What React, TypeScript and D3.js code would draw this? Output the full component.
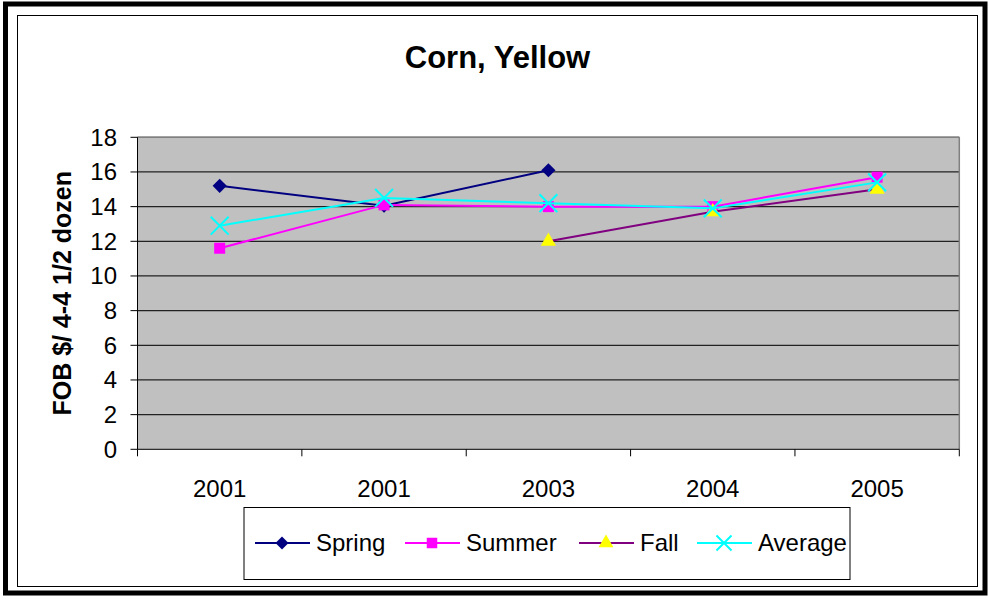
import React from 'react';
import * as d3 from 'd3';

const categories: string[] = ['2001', '2001', '2003', '2004', '2005'];
const spring: (number | null)[] = [15.2, 14.05, 16.1, null, null];
const summer: (number | null)[] = [11.6, 14.1, 14.0, 14.0, 15.7];
const fall: (number | null)[] = [null, null, 12.0, 13.7, 15.0];
const average: (number | null)[] = [12.9, 14.5, 14.2, 13.9, 15.4];
const yTicks: number[] = [0, 2, 4, 6, 8, 10, 12, 14, 16, 18];

const FONT = '"Liberation Sans", Arial, sans-serif';

type Series = {
  name: string;
  values: (number | null)[];
  line: string;
  fill: string;
  symbol: d3.SymbolType;
  size: number;
  legendSize: number;
  rotate: number;
  stroked: boolean;
};

const series: Series[] = [
  { name: 'Spring', values: spring, line: '#000080', fill: '#000080', symbol: d3.symbolSquare, size: 100, legendSize: 85, rotate: 45, stroked: false },
  { name: 'Summer', values: summer, line: '#FF00FF', fill: '#FF00FF', symbol: d3.symbolSquare, size: 121, legendSize: 110, rotate: 0, stroked: false },
  { name: 'Fall', values: fall, line: '#800080', fill: '#FFFF00', symbol: d3.symbolTriangle, size: 100, legendSize: 95, rotate: 0, stroked: false },
  { name: 'Average', values: average, line: '#00FFFF', fill: '#00FFFF', symbol: d3.symbolX, size: 210, legendSize: 150, rotate: 0, stroked: true },
];

// legend entry offsets from the legend box left edge
const legendOffsets: number[] = [11, 161, 335, 453];

const App: React.FC = () => {
  const width = 989;
  const height = 600;
  const plot = { left: 137.5, top: 137.3, right: 959.3, bottom: 449.3 };

  const x = d3.scaleBand<number>()
    .domain(categories.map((_, i) => i))
    .range([plot.left, plot.right]);

  const y = d3.scaleLinear()
    .domain([0, 18])
    .range([plot.bottom, plot.top]);

  const line = d3.line<number | null>()
    .defined((d) => d !== null)
    .x((_, i) => (x(i) as number) + x.bandwidth() / 2)
    .y((d) => y(d as number));

  const legend = { x: 244, y: 507.5, w: 606, h: 72 };

  return (
    <svg width={width} height={height} style={{ position: 'absolute', left: 0, top: 0 }}>
      <rect x={0} y={0} width={width} height={height} fill="#fff" />
      <rect x={5.5} y={4} width={979.5} height={589} fill="none" stroke="#000" strokeWidth={5} />
      <rect x={17.5} y={15.5} width={960} height={571} fill="none" stroke="#000" strokeWidth={1} />

      <text x={497.5} y={68} textAnchor="middle" fontFamily={FONT} fontSize={31} fontWeight="bold">
        Corn, Yellow
      </text>

      {/* plot area */}
      <rect x={plot.left} y={plot.top} width={plot.right - plot.left} height={plot.bottom - plot.top} fill="#C0C0C0" />
      {yTicks.filter((t) => t > 0).map((t) => (
        <line key={`g${t}`} x1={plot.left} x2={plot.right} y1={y(t)} y2={y(t)} stroke="#222" strokeWidth={1.2} />
      ))}
      <line x1={plot.left} x2={plot.right} y1={plot.top} y2={plot.top} stroke="#808080" strokeWidth={1.5} />
      <line x1={plot.right} x2={plot.right} y1={plot.top} y2={plot.bottom} stroke="#808080" strokeWidth={1.5} />

      {/* y axis */}
      <line x1={plot.left} x2={plot.left} y1={plot.top} y2={plot.bottom} stroke="#000" strokeWidth={1} />
      {yTicks.map((t) => (
        <g key={`y${t}`}>
          <line x1={plot.left - 7} x2={plot.left} y1={y(t)} y2={y(t)} stroke="#000" strokeWidth={1} />
          <text x={117} y={y(t) + 8.5} textAnchor="end" fontFamily={FONT} fontSize={24}>
            {t}
          </text>
        </g>
      ))}
      <text
        transform={`translate(71,${(plot.top + plot.bottom) / 2}) rotate(-90)`}
        textAnchor="middle"
        fontFamily={FONT}
        fontSize={25}
        fontWeight="bold"
      >
        FOB $/ 4-4 1/2 dozen
      </text>

      {/* x axis */}
      <line x1={plot.left} x2={plot.right} y1={plot.bottom} y2={plot.bottom} stroke="#000" strokeWidth={1} />
      {categories.map((_, i) => (
        <line key={`xt${i}`} x1={x(i) as number} x2={x(i) as number} y1={plot.bottom} y2={plot.bottom + 7} stroke="#000" strokeWidth={1} />
      ))}
      <line x1={plot.right} x2={plot.right} y1={plot.bottom} y2={plot.bottom + 7} stroke="#000" strokeWidth={1} />
      {categories.map((c, i) => (
        <text key={`xl${i}`} x={(x(i) as number) + x.bandwidth() / 2} y={497} textAnchor="middle" fontFamily={FONT} fontSize={24}>
          {c}
        </text>
      ))}

      {/* series */}
      {series.map((s) => (
        <g key={s.name}>
          <path d={line(s.values) || ''} fill="none" stroke={s.line} strokeWidth={2} />
          {s.values.map((v, i) =>
            v === null ? null : (
              <path
                key={i}
                d={d3.symbol().type(s.symbol).size(s.size)() || ''}
                transform={`translate(${(x(i) as number) + x.bandwidth() / 2},${y(v)}) rotate(${s.rotate})`}
                fill={s.stroked ? 'none' : s.fill}
                stroke={s.stroked ? s.fill : 'none'}
                strokeWidth={s.stroked ? 2 : 0}
              />
            )
          )}
        </g>
      ))}

      {/* legend */}
      <rect x={legend.x} y={legend.y} width={legend.w} height={legend.h} fill="#fff" stroke="#000" strokeWidth={1} />
      {series.map((s, i) => {
        const lx = legend.x + legendOffsets[i];
        const ly = 543;
        return (
          <g key={`lg${s.name}`}>
            <line x1={lx} x2={lx + 55} y1={ly} y2={ly} stroke={s.line} strokeWidth={2} />
            <path
              d={d3.symbol().type(s.symbol).size(s.legendSize)() || ''}
              transform={`translate(${lx + 27},${ly}) rotate(${s.rotate})`}
              fill={s.stroked ? 'none' : s.fill}
              stroke={s.stroked ? s.fill : 'none'}
              strokeWidth={s.stroked ? 2 : 0}
            />
            <text x={lx + 61} y={ly + 7.5} fontFamily={FONT} fontSize={24}>
              {s.name}
            </text>
          </g>
        );
      })}
    </svg>
  );
};

export default App;
